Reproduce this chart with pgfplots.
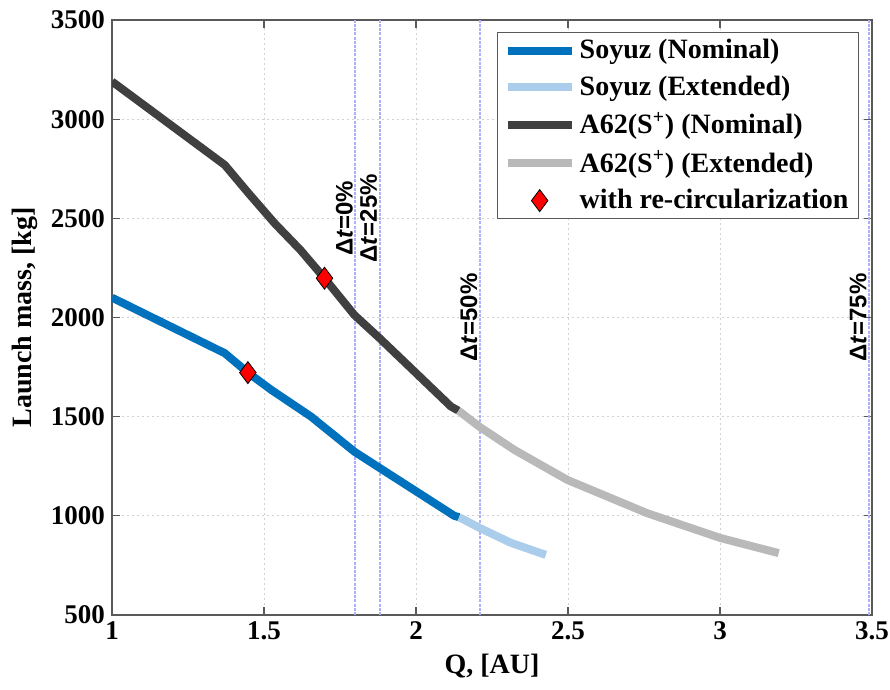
\documentclass[border=0pt]{standalone}
\usepackage{fontspec}
\setmainfont{Liberation Serif}
\setsansfont{Liberation Sans}
\usepackage{pgfplots}
\pgfplotsset{compat=1.18}
\definecolor{soyuz}{RGB}{0,114,189}
\definecolor{soyuzext}{RGB}{170,205,235}
\definecolor{aline}{RGB}{64,64,64}
\definecolor{aext}{RGB}{185,185,185}
\definecolor{vcol}{RGB}{175,175,255}
\pgfplotsset{markleg/.style={legend image code/.code={\draw[##1] plot coordinates {(16pt,0pt)};}}}
\begin{document}
\begin{tikzpicture}
\begin{axis}[
  scale only axis, width=380pt, height=297.5pt,
  xmin=1, xmax=3.5, ymin=500, ymax=3500,
  xtick={1,1.5,2,2.5,3,3.5}, ytick={500,1000,1500,2000,2500,3000,3500},
  tick align=inside,
  grid=major,
  major grid style={gray!35, dash pattern=on 1pt off 1.5pt, line width=0.4pt},
  axis line style={gray!70!black, line width=0.6pt},
  tick style={gray!70!black, line width=0.6pt},
  major tick length=4pt,
  /pgf/number format/assume math mode=true,
  /pgf/number format/1000 sep={},
  ticklabel style={font=\bfseries\fontsize{13.5}{16}\selectfont, text=black},
  xlabel={Q, [AU]}, ylabel={Launch mass, [kg]},
  label style={font=\bfseries\fontsize{14}{16}\selectfont},
  legend style={at={(0.983,0.98)}, anchor=north east, draw=gray!70!black, line width=0.6pt,
    font=\bfseries\fontsize{14}{16}\selectfont, row sep=3pt, inner xsep=3pt, inner ysep=1.5pt},
  legend cell align=left,
  legend image code/.code={\draw[#1] (0pt,0pt)--(32pt,0pt);},
]
% vertical reference lines
\addplot[color=vcol, line width=1pt, dash pattern=on 1.5pt off 0.6pt, forget plot] coordinates {(1.8,500)(1.8,3500)};
\addplot[color=vcol, line width=1pt, dash pattern=on 1.5pt off 0.6pt, forget plot] coordinates {(1.88,500)(1.88,3500)};
\addplot[color=vcol, line width=1pt, dash pattern=on 1.5pt off 0.6pt, forget plot] coordinates {(2.21,500)(2.21,3500)};
\addplot[color=vcol, line width=1pt, dash pattern=on 1.5pt off 0.6pt, forget plot] coordinates {(3.49,500)(3.49,3500)};

\addplot[soyuz, line width=4pt, line join=round] coordinates {
 (1.00,2100) (1.371,1820) (1.447,1722) (1.524,1635) (1.655,1500) (1.797,1324)
 (1.882,1240) (2.0,1124) (2.126,1000) (2.142,993)};
\addlegendentry{Soyuz (Nominal)}
\addplot[soyuzext, line width=4pt, line join=round] coordinates {
 (2.142,993) (2.208,940) (2.312,864) (2.427,803)};
\addlegendentry{Soyuz (Extended)}
\addplot[aline, line width=4pt, line join=round] coordinates {
 (1.00,3190) (1.371,2769) (1.45,2625) (1.535,2475) (1.62,2340) (1.699,2198)
 (1.797,2013) (1.88,1896) (2.0,1720) (2.115,1551) (2.14,1530)};
\addlegendentry{A62(S\textsuperscript{+}) (Nominal)}
\addplot[aext, line width=4pt, line join=round] coordinates {
 (2.14,1530) (2.208,1450) (2.323,1333) (2.498,1181) (2.761,1013) (3.002,888) (3.193,812)};
\addlegendentry{A62(S\textsuperscript{+}) (Extended)}
\addplot[only marks, mark=diamond*, mark size=5.5pt,
  mark options={fill=red, draw=black, line width=0.4pt}, markleg]
  coordinates {(1.447,1722) (1.699,2198)};
\addlegendentry{with re-circularization}

\node[rotate=90, anchor=south, inner sep=1pt, font=\sffamily\bfseries\fontsize{12}{14}\selectfont] at (axis cs:1.8,2500) {Δ\textit{t}=0\%};
\node[rotate=90, anchor=south, inner sep=1pt, font=\sffamily\bfseries\fontsize{12}{14}\selectfont] at (axis cs:1.88,2500) {Δ\textit{t}=25\%};
\node[rotate=90, anchor=south, inner sep=1pt, font=\sffamily\bfseries\fontsize{12}{14}\selectfont] at (axis cs:2.21,2000) {Δ\textit{t}=50\%};
\node[rotate=90, anchor=south, inner sep=1pt, font=\sffamily\bfseries\fontsize{12}{14}\selectfont] at (axis cs:3.49,2000) {Δ\textit{t}=75\%};
\end{axis}
\pgfresetboundingbox
\path ([xshift=-56pt,yshift=-37pt]current axis.south west) rectangle ([xshift=9pt,yshift=10pt]current axis.north east);
\end{tikzpicture}
\end{document}
